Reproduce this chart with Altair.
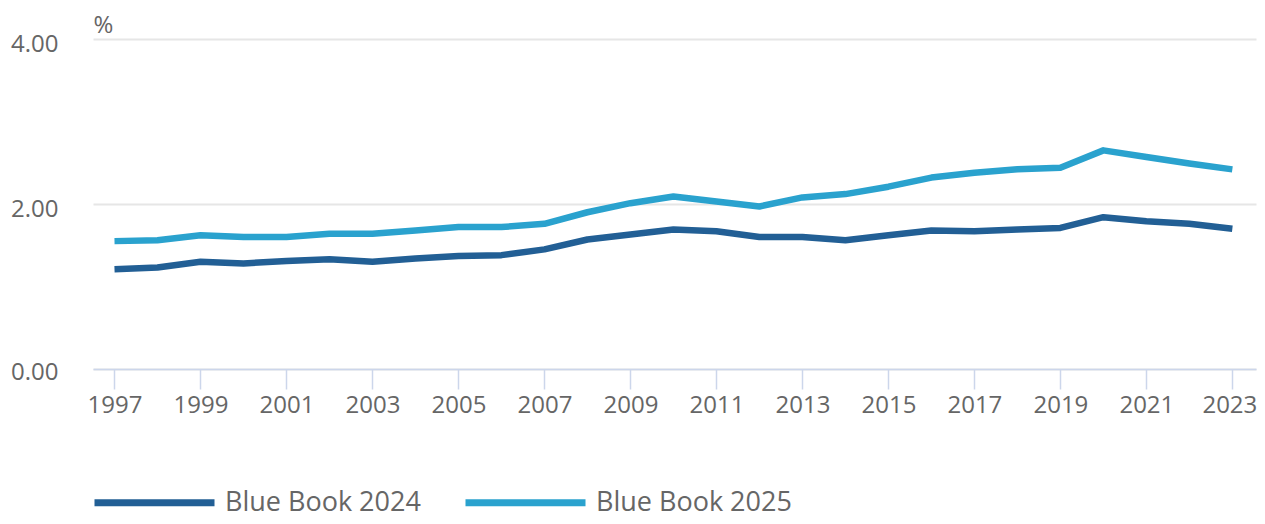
import altair as alt
import pandas as pd

years = list(range(1997, 2024))
bb2024 = [1.21, 1.23, 1.30, 1.28, 1.31, 1.33, 1.30, 1.34, 1.37, 1.38, 1.45, 1.57, 1.63, 1.69,
          1.67, 1.60, 1.60, 1.56, 1.62, 1.68, 1.67, 1.69, 1.71, 1.84, 1.79, 1.76, 1.70]
bb2025 = [1.55, 1.56, 1.62, 1.60, 1.60, 1.64, 1.64, 1.68, 1.72, 1.72, 1.76, 1.90, 2.01, 2.09,
          2.03, 1.97, 2.08, 2.12, 2.21, 2.32, 2.38, 2.42, 2.44, 2.65, 2.57, 2.49, 2.42]
series_names = ["Blue Book 2024", "Blue Book 2025"]
series_colors = ["#225f95", "#2aa2ce"]
x_ticks = list(range(1997, 2024, 2))
y_ticks = [0, 2, 4]

df = pd.concat([
    pd.DataFrame({"year": years, "value": bb2024, "series": series_names[0]}),
    pd.DataFrame({"year": years, "value": bb2025, "series": series_names[1]}),
])

FONT = "Open Sans"
GREY = "#666666"

chart = alt.Chart(df).mark_line(strokeWidth=6.5, strokeJoin="round").encode(
    x=alt.X("year:Q",
            scale=alt.Scale(domain=[1996.5, 2023.55], nice=False, zero=False),
            axis=alt.Axis(values=x_ticks, format="d", title=None, grid=False,
                          domainColor="#ccd6eb", domainWidth=1.5,
                          tickColor="#ccd6eb", tickWidth=1.5, tickSize=20,
                          labelPadding=4, labelFont=FONT, labelFontSize=24,
                          labelOffset={"condition": {"test": "datum.value == 2023", "value": -3},
                                       "value": 0},
                          labelColor=GREY, labelFlush=False)),
    y=alt.Y("value:Q",
            scale=alt.Scale(domain=[0, 4], nice=False),
            axis=alt.Axis(values=y_ticks, format=".2f", title="%", titleAngle=0,
                          titleX=0, titleY=-7, titleAlign="left", titleBaseline="alphabetic",
                          titleFont=FONT, titleFontSize=24, titleFontWeight="normal",
                          titleColor=GREY, domain=False, ticks=False, tickSize=0,
                          labelPadding=35,
                          labelOffset={"condition": {"test": "datum.value == 0", "value": 3},
                                       "value": 5},
                          labelFont=FONT, labelFontSize=24,
                          labelColor=GREY, gridColor="#e6e6e6", gridWidth=2)),
    color=alt.Color("series:N",
                    scale=alt.Scale(domain=series_names, range=series_colors),
                    legend=alt.Legend(title=None, orient="none", direction="horizontal",
                                      legendX=-2, legendY=400,
                                      symbolType="stroke", symbolSize=14400,
                                      symbolStrokeWidth=7, labelOffset=7,
                                      columnPadding=30, labelFont=FONT,
                                      labelFontSize=27, labelColor=GREY,
                                      labelLimit=400)),
).properties(
    width=1163, height=330,
    autosize=alt.AutoSizeParams(type="none"),
    padding={"left": 85, "top": 31, "right": 1, "bottom": 147},
).configure_view(stroke=None)

chart.save("out.html", embed_options={"renderer": "svg", "actions": False})
